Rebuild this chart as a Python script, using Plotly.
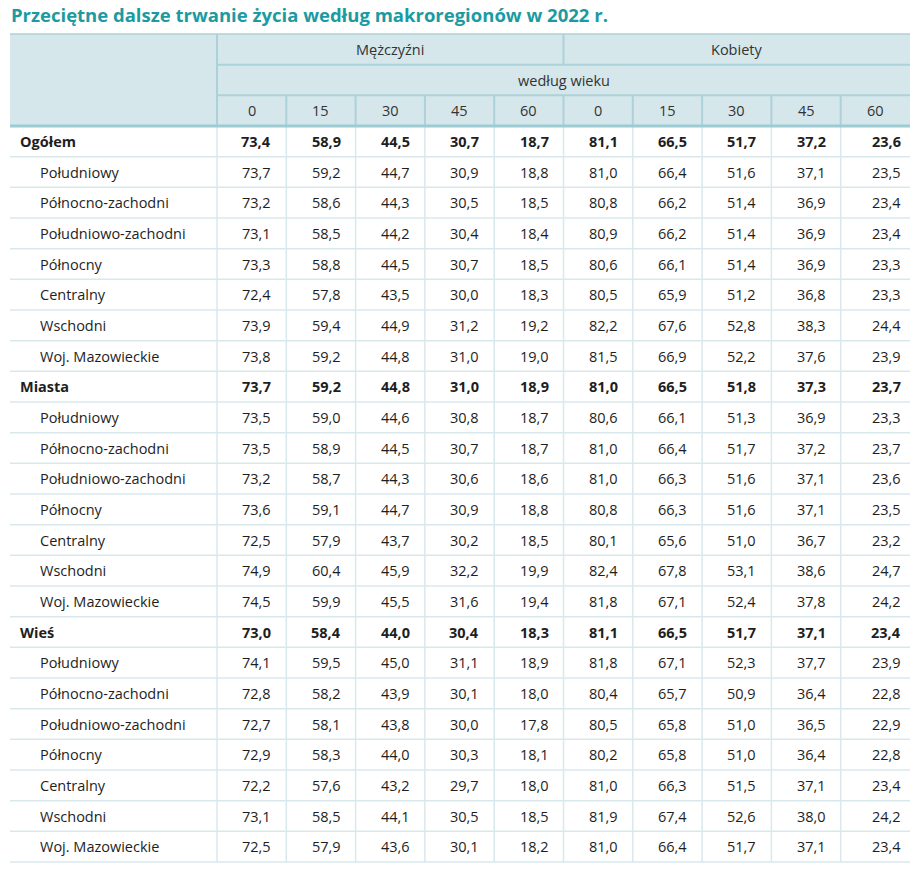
import plotly.graph_objects as go

title = "Przeciętne dalsze trwanie życia według makroregionów w 2022 r."
group_headers = ["Mężczyźni", "Kobiety"]
sub_header = "według wieku"
ages = ["0", "15", "30", "45", "60"]

labels = [
    "Ogółem", "Południowy", "Północno-zachodni", "Południowo-zachodni", "Północny",
    "Centralny", "Wschodni", "Woj. Mazowieckie",
    "Miasta", "Południowy", "Północno-zachodni", "Południowo-zachodni", "Północny",
    "Centralny", "Wschodni", "Woj. Mazowieckie",
    "Wieś", "Południowy", "Północno-zachodni", "Południowo-zachodni", "Północny",
    "Centralny", "Wschodni", "Woj. Mazowieckie",
]
bold_rows = ["Ogółem", "Miasta", "Wieś"]

men = [
    [73.4, 58.9, 44.5, 30.7, 18.7],
    [73.7, 59.2, 44.7, 30.9, 18.8],
    [73.2, 58.6, 44.3, 30.5, 18.5],
    [73.1, 58.5, 44.2, 30.4, 18.4],
    [73.3, 58.8, 44.5, 30.7, 18.5],
    [72.4, 57.8, 43.5, 30.0, 18.3],
    [73.9, 59.4, 44.9, 31.2, 19.2],
    [73.8, 59.2, 44.8, 31.0, 19.0],
    [73.7, 59.2, 44.8, 31.0, 18.9],
    [73.5, 59.0, 44.6, 30.8, 18.7],
    [73.5, 58.9, 44.5, 30.7, 18.7],
    [73.2, 58.7, 44.3, 30.6, 18.6],
    [73.6, 59.1, 44.7, 30.9, 18.8],
    [72.5, 57.9, 43.7, 30.2, 18.5],
    [74.9, 60.4, 45.9, 32.2, 19.9],
    [74.5, 59.9, 45.5, 31.6, 19.4],
    [73.0, 58.4, 44.0, 30.4, 18.3],
    [74.1, 59.5, 45.0, 31.1, 18.9],
    [72.8, 58.2, 43.9, 30.1, 18.0],
    [72.7, 58.1, 43.8, 30.0, 17.8],
    [72.9, 58.3, 44.0, 30.3, 18.1],
    [72.2, 57.6, 43.2, 29.7, 18.0],
    [73.1, 58.5, 44.1, 30.5, 18.5],
    [72.5, 57.9, 43.6, 30.1, 18.2],
]
women = [
    [81.1, 66.5, 51.7, 37.2, 23.6],
    [81.0, 66.4, 51.6, 37.1, 23.5],
    [80.8, 66.2, 51.4, 36.9, 23.4],
    [80.9, 66.2, 51.4, 36.9, 23.4],
    [80.6, 66.1, 51.4, 36.9, 23.3],
    [80.5, 65.9, 51.2, 36.8, 23.3],
    [82.2, 67.6, 52.8, 38.3, 24.4],
    [81.5, 66.9, 52.2, 37.6, 23.9],
    [81.0, 66.5, 51.8, 37.3, 23.7],
    [80.6, 66.1, 51.3, 36.9, 23.3],
    [81.0, 66.4, 51.7, 37.2, 23.7],
    [81.0, 66.3, 51.6, 37.1, 23.6],
    [80.8, 66.3, 51.6, 37.1, 23.5],
    [80.1, 65.6, 51.0, 36.7, 23.2],
    [82.4, 67.8, 53.1, 38.6, 24.7],
    [81.8, 67.1, 52.4, 37.8, 24.2],
    [81.1, 66.5, 51.7, 37.1, 23.4],
    [81.8, 67.1, 52.3, 37.7, 23.9],
    [80.4, 65.7, 50.9, 36.4, 22.8],
    [80.5, 65.8, 51.0, 36.5, 22.9],
    [80.2, 65.8, 51.0, 36.4, 22.8],
    [81.0, 66.3, 51.5, 37.1, 23.4],
    [81.9, 67.4, 52.6, 38.0, 24.2],
    [81.0, 66.4, 51.7, 37.1, 23.4],
]

# ---- layout / style constants ----
W, H = 920, 874
FONT = "Open Sans"
TEAL = "#1b9ba1"
HEAD_BG = "#d5e7eb"
HEAD_LINE = "#acd2d9"
THICK_LINE = "#9ccbd3"
GRID = "#d9e8ec"
TXT = "#1e1e1e"
FS = 14.5

x_left, x_right = 10, 910
label_w = 207
n_cols = 2 * len(ages)
col_w = (x_right - x_left - label_w) / n_cols
col_edges = [x_left + label_w + i * col_w for i in range(n_cols + 1)]
y_top = 34
row_h = (862 - y_top) / (3 + len(labels))
hdr_y = [y_top + i * row_h for i in range(4)]
body_top = hdr_y[3]

shapes = []
annotations = []

def line(x0, y0, x1, y1, color, width):
    shapes.append(dict(type="line", xref="x", yref="y", x0=x0, y0=y0, x1=x1, y1=y1,
                       line=dict(color=color, width=width), layer="above"))

# header background
shapes.append(dict(type="rect", xref="x", yref="y", x0=x_left, x1=x_right, y0=hdr_y[0], y1=hdr_y[3],
                   fillcolor=HEAD_BG, line=dict(width=0), layer="below"))

# body grid
for r in range(len(labels)):
    yb = body_top + (r + 1) * row_h
    line(x_left, yb, x_right, yb, GRID, 1.5)
for xe in col_edges[:-1]:
    line(xe, body_top, xe, body_top + len(labels) * row_h, GRID, 1.5)

# header lines
line(x_left, hdr_y[0], x_right, hdr_y[0], HEAD_LINE, 1.5)
line(col_edges[0], hdr_y[0], col_edges[0], hdr_y[3], HEAD_LINE, 2)
line(col_edges[0], hdr_y[1], x_right, hdr_y[1], HEAD_LINE, 2)
line(col_edges[0], hdr_y[2], x_right, hdr_y[2], HEAD_LINE, 2)
line(col_edges[len(ages)], hdr_y[0], col_edges[len(ages)], hdr_y[1], HEAD_LINE, 2)
for xe in col_edges[1:-1]:
    line(xe, hdr_y[2], xe, hdr_y[3], HEAD_LINE, 2)
line(x_left, hdr_y[3], x_right, hdr_y[3], THICK_LINE, 3)

def text(x, y, s, anchor="center", bold=False, size=FS, color=TXT):
    annotations.append(dict(xref="x", yref="y", x=x, y=y, text=f"<b>{s}</b>" if bold else s,
                            showarrow=False, xanchor=anchor, yanchor="middle",
                            font=dict(family=FONT, size=size, color=color)))

# title
annotations.append(dict(xref="x", yref="y", x=x_left - 1, y=14.5, text=f"<b>{title}</b>", showarrow=False,
                        xanchor="left", yanchor="middle", font=dict(family=FONT, size=18.5, color=TEAL)))

# header texts
for g, name in enumerate(group_headers):
    xc = (col_edges[g * len(ages)] + col_edges[(g + 1) * len(ages)]) / 2
    text(xc, (hdr_y[0] + hdr_y[1]) / 2, name, color="#333")
text((col_edges[0] + col_edges[-1]) / 2, (hdr_y[1] + hdr_y[2]) / 2, sub_header, color="#333")
for i in range(n_cols):
    text((col_edges[i] + col_edges[i + 1]) / 2, (hdr_y[2] + hdr_y[3]) / 2, ages[i % len(ages)], color="#333")

def fmt(v):
    return f"{v:.1f}".replace(".", ",")

for r, lab in enumerate(labels):
    yc = body_top + (r + 0.5) * row_h
    b = lab in bold_rows
    text(x_left + (8 if b else 28), yc, lab, anchor="left", bold=b)
    vals = men[r] + women[r]
    for c, v in enumerate(vals):
        pad = 7 if c == n_cols - 1 else 13
        text(col_edges[c + 1] - pad, yc, fmt(v), anchor="right", bold=b)

fig = go.Figure()
fig.add_trace(go.Scatter(x=[x_left, x_right], y=[0, H], mode="markers", marker=dict(opacity=0),
                         hoverinfo="skip", showlegend=False))
fig.update_layout(
    width=W, height=H, margin=dict(l=0, r=0, t=0, b=0),
    paper_bgcolor="white", plot_bgcolor="white",
    xaxis=dict(range=[0, W], visible=False, fixedrange=True),
    yaxis=dict(range=[H, 0], visible=False, fixedrange=True),
    shapes=shapes, annotations=annotations, showlegend=False,
)
fig.write_html("out.html", config={"displayModeBar": False},
               post_script="document.body.style.margin='0';document.body.style.overflow='hidden';")
